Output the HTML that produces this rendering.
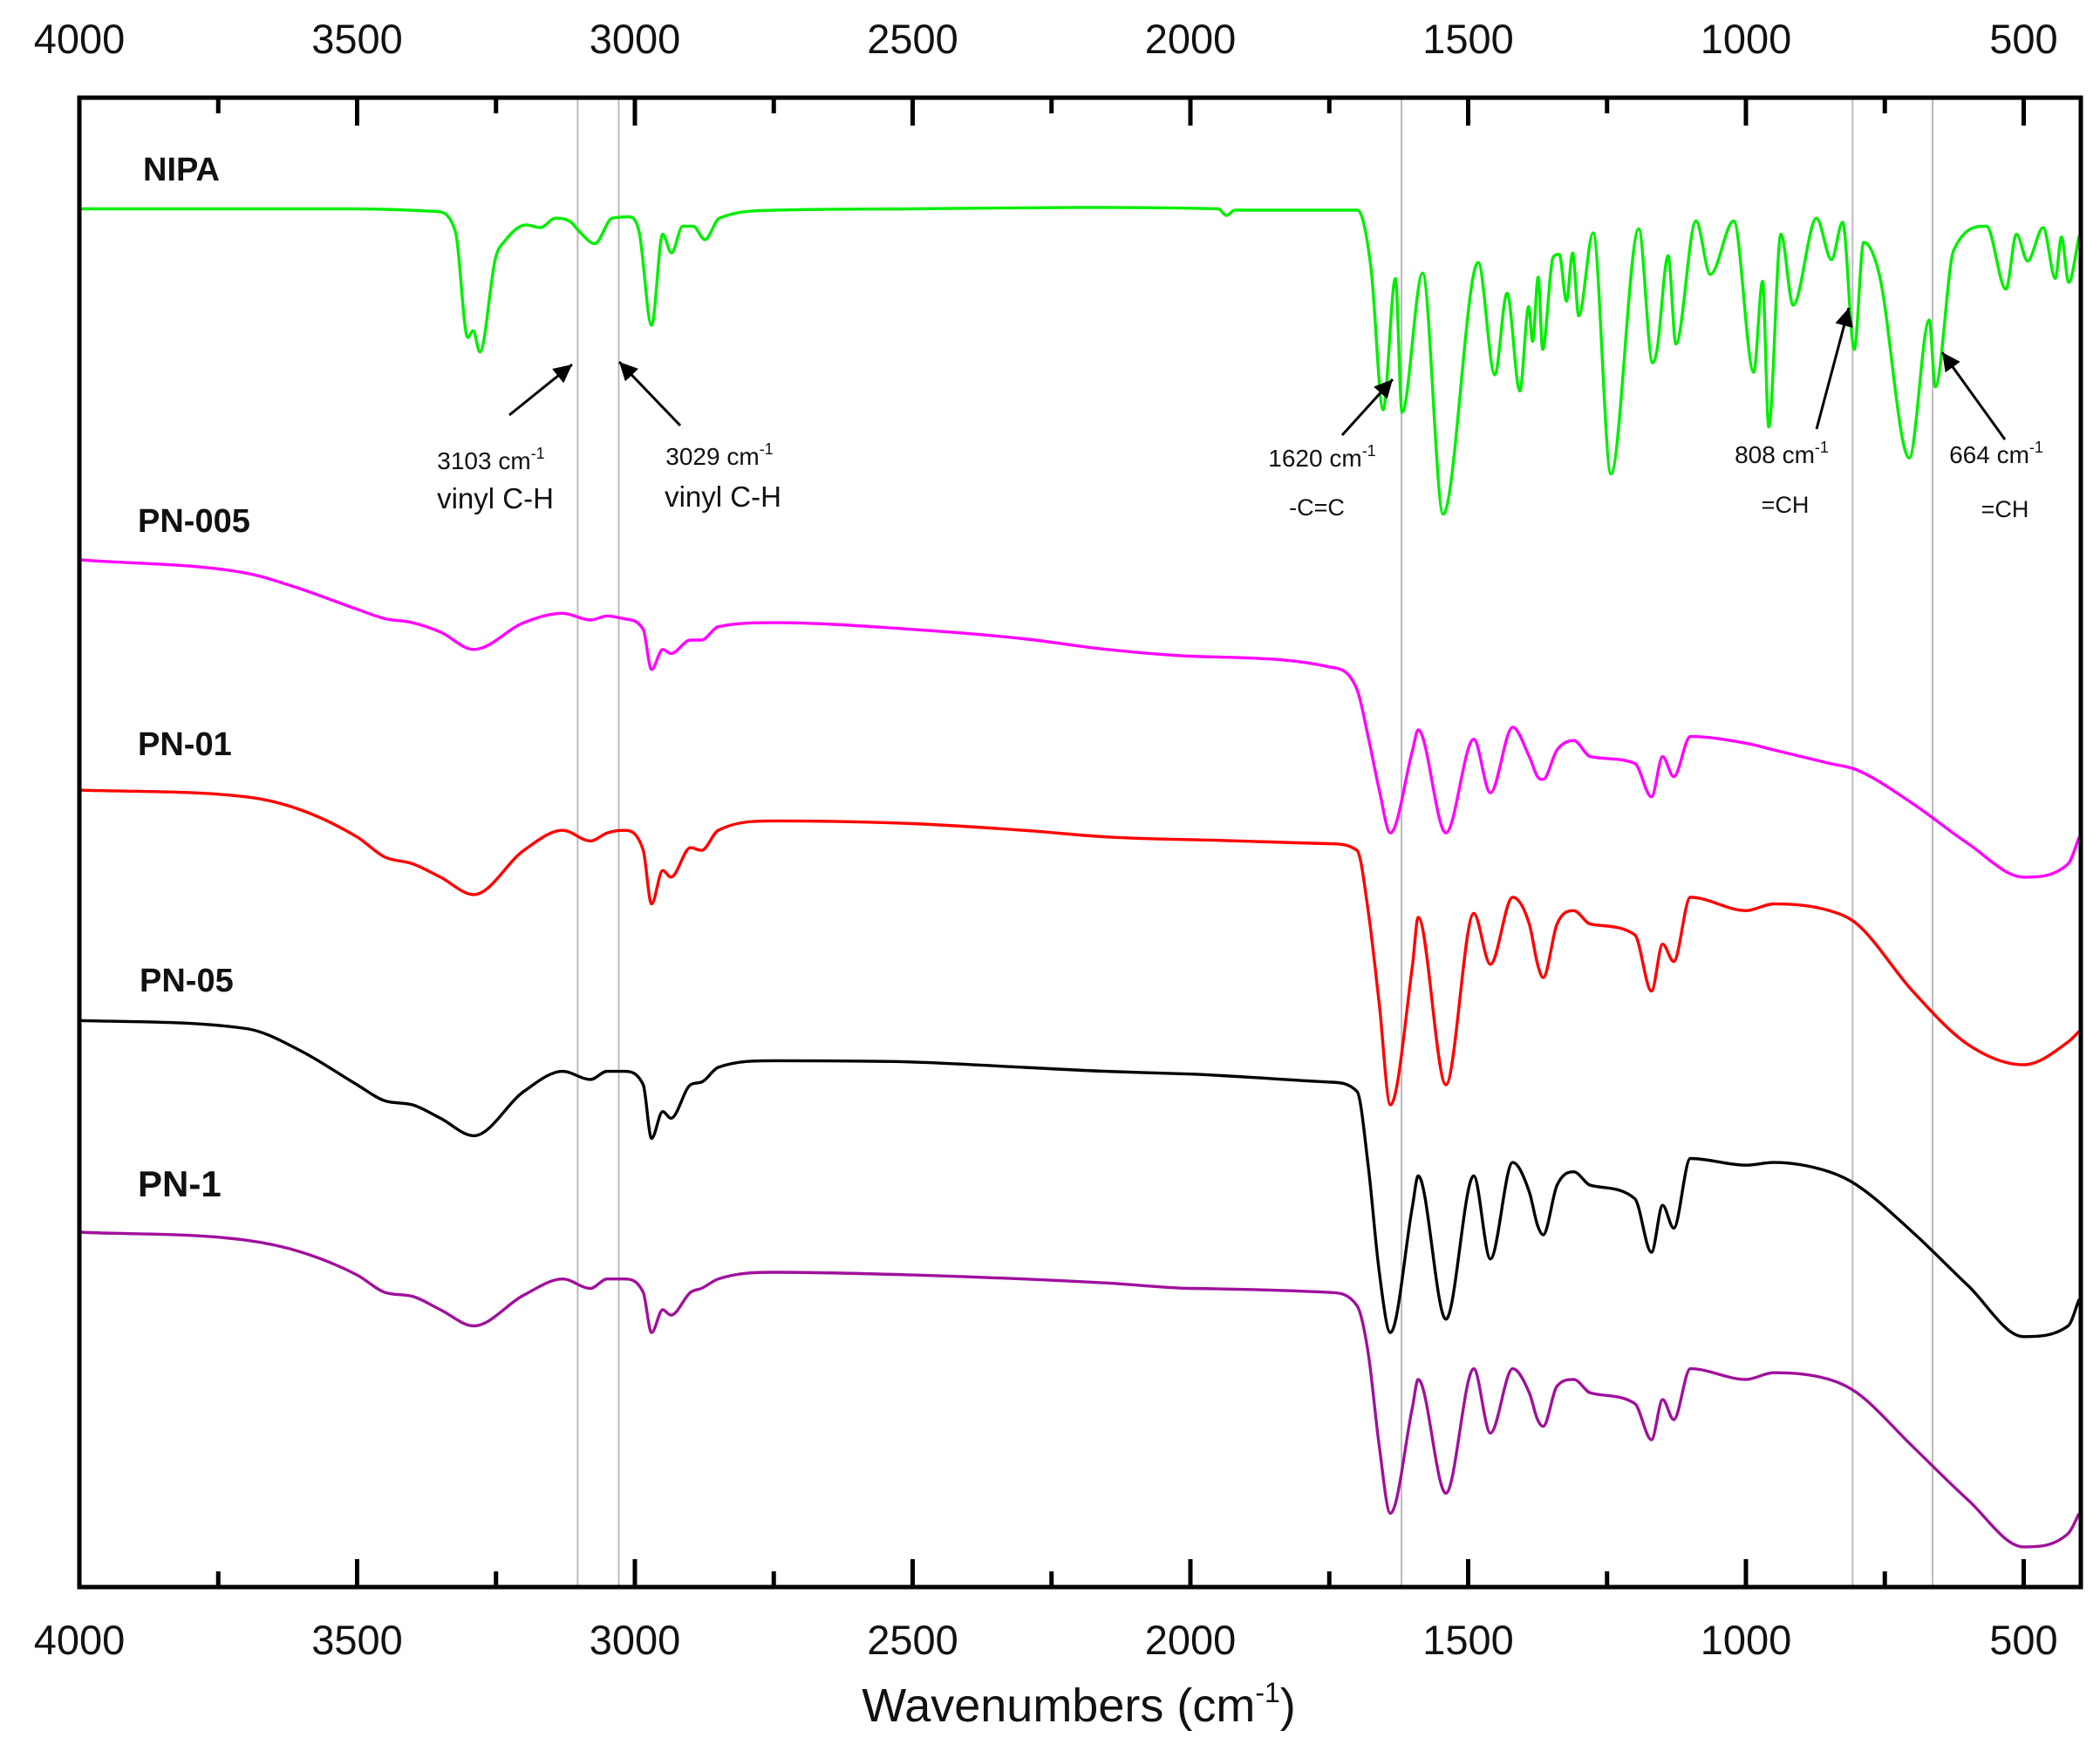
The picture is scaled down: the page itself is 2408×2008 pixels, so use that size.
<!DOCTYPE html>
<html><head><meta charset="utf-8"><style>
html,body{margin:0;padding:0;background:#fff}
svg{display:block;font-family:"Liberation Sans",Arial,sans-serif}
</style></head><body>
<svg id="chart" width="2408" height="2008" viewBox="0 0 2408 2008" xmlns="http://www.w3.org/2000/svg">
<rect width="2408" height="2008" fill="#fff"/>
<g id="grid"></g><g id="series"></g><g id="axes"></g><g id="ann"></g>
</svg>
<script>
// ---- data (wavenumber in cm-1, transmittance in arbitrary units) ----
const nipaWn=[4000,3515,3358,3323,3301,3291,3279,3251,3234,3196,3170,3143,3115,3100,3072,3041,3011,2992,2970,2950,2934,2914,2895,2874,2848,2746,2500,2200,1950,1935,1920,1699,1675,1653,1631,1619,1582,1545,1482,1452,1430,1407,1391,1384,1374,1366,1347,1336,1323,1312,1301,1275,1243,1193,1168,1160,1140,1126,1090,1064,1022,986,970,959,937,915,873,846,826,805,788,760,706,670,659,626,567,532,513,493,465,443,432,419,400];
const nipaT=[1029,1029,1027,1012,933,938,922,992,1005,1017,1015,1022,1019,1012,1003,1022,1023,1011,942,1010,996,1016,1016,1006,1022,1028,1029,1030,1029,1024,1028,1028,985,879,977,877,981,801,989,905,966,893,956,930,978,924,993,995,960,996,949,1011,831,1014,914,924,994,928,1020,980,1020,907,975,866,1010,957,1022,991,1019,924,1004,980,843,946,896,998,1016,969,1010,990,1015,977,1008,974,1009];
const polyWn=[4000,3700,3600,3500,3450,3400,3350,3290,3200,3130,3080,3050,3020,2985,2970,2950,2935,2900,2880,2850,2750,2500,2300,2150,2000,1750,1700,1680,1660,1640,1600,1590,1540,1490,1460,1420,1390,1375,1365,1340,1310,1280,1200,1170,1150,1130,1100,1000,950,850,800,700,600,500,420,400];
const pn005T=[767,757,745,730,723,720,713,700,720,727,722,725,723,715,685,700,697,707,707,717,720,715,708,700,695,687,670,635,595,563,625,640,563,633,593,642,620,605,603,625,632,620,615,590,620,605,635,630,625,615,610,585,555,530,540,560];
const pn01T=[595,590,580,560,545,540,530,517,550,565,557,563,565,550,510,535,530,552,550,565,572,570,565,560,558,555,550,505,435,360,465,500,375,503,465,515,495,465,455,495,505,495,487,445,480,467,515,505,510,505,495,445,405,390,407,415];
const pn05T=[423,417,400,375,363,360,350,337,370,385,379,385,385,375,335,355,350,375,377,388,393,392,388,385,383,377,370,315,235,190,285,307,200,307,245,317,295,270,263,300,310,300,290,250,285,268,320,315,317,310,300,265,225,187,195,215];
const pn1T=[265,259,250,233,220,217,207,195,218,230,223,230,230,220,190,207,203,220,223,230,235,233,230,227,223,220,210,175,105,55,135,155,70,163,115,163,145,125,120,150,155,145,137,110,140,125,163,155,160,155,145,105,65,30,40,55];
const tickMajor=[4000,3500,3000,2500,2000,1500,1000,500];
const tickMinor=[3750,3250,2750,2250,1750,1250,750];
const markerWn=[3103,3029,1620,808,664];

// ---- scales ----
const L=91,R=2386,T=112,B=1820;
const X0=4000,X1=4000-(R-L)/0.637;
const x=w=>L+(X0-w)*(R-L)/(X0-X1);
const y=v=>B-v*1.536;
const NS="http://www.w3.org/2000/svg";
function mk(tag,attrs,parent){const e=document.createElementNS(NS,tag);for(const k in attrs)e.setAttribute(k,attrs[k]);parent.appendChild(e);return e;}
const gGrid=document.getElementById('grid'),gS=document.getElementById('series'),gA=document.getElementById('axes');

markerWn.forEach(w=>{const l=mk('line',{x1:x(w),x2:x(w),y1:T,y2:B,stroke:'#bbb','stroke-width':2},gGrid);

});

// monotone cubic path
function monoPath(px,py){
  const n=px.length,d=[],m=new Array(n);
  for(let i=0;i<n-1;i++)d.push((py[i+1]-py[i])/(px[i+1]-px[i]));
  m[0]=d[0];m[n-1]=d[n-2];
  for(let i=1;i<n-1;i++){m[i]=(d[i-1]*d[i]<=0)?0:(d[i-1]+d[i])/2;}
  for(let i=0;i<n-1;i++){if(d[i]===0){m[i]=0;m[i+1]=0;continue;}
    const a=m[i]/d[i],b=m[i+1]/d[i],s=a*a+b*b;
    if(s>9){const t=3/Math.sqrt(s);m[i]=t*a*d[i];m[i+1]=t*b*d[i];}}
  let s='M'+px[0].toFixed(1)+' '+py[0].toFixed(1);
  for(let i=0;i<n-1;i++){const h=(px[i+1]-px[i])/3;
    s+=' C'+(px[i]+h).toFixed(1)+' '+(py[i]+m[i]*h).toFixed(1)+' '+(px[i+1]-h).toFixed(1)+' '+(py[i+1]-m[i+1]*h).toFixed(1)+' '+px[i+1].toFixed(1)+' '+py[i+1].toFixed(1);}
  return s;
}
function series(wn,vals,color,name){
  const d=monoPath(wn.map(x),vals.map(y));
  const p=mk('path',{d:d,fill:'none',stroke:color,'stroke-width':3.4,'stroke-linejoin':'round'},gS);
  
  
}
series(nipaWn,nipaT,'#00ee00','series-nipa');
series(polyWn,pn005T,'#ff00ff','series-pn-005');
series(polyWn,pn01T,'#ff0000','series-pn-01');
series(polyWn,pn05T,'#000000','series-pn-05');
series(polyWn,pn1T,'#a0109c','series-pn-1');

const fr=mk('rect',{x:L,y:T,width:R-L,height:B-T,fill:'none',stroke:'#000','stroke-width':5},gA);


tickMajor.forEach(w=>{
  mk('line',{x1:x(w),x2:x(w),y1:T,y2:T+32,stroke:'#000','stroke-width':5},gA);
  mk('line',{x1:x(w),x2:x(w),y1:B,y2:B-32,stroke:'#000','stroke-width':5},gA);
  const t1=mk('text',{x:x(w),y:61,'font-size':47,'text-anchor':'middle',fill:'#111'},gA);t1.textContent=w;
  
  
  const t2=mk('text',{x:x(w),y:1897,'font-size':47,'text-anchor':'middle',fill:'#111'},gA);t2.textContent=w;
  
  
});
tickMinor.forEach(w=>{
  mk('line',{x1:x(w),x2:x(w),y1:T,y2:T+18,stroke:'#000','stroke-width':5},gA);
  mk('line',{x1:x(w),x2:x(w),y1:B,y2:B-18,stroke:'#000','stroke-width':5},gA);
});
</script>
<svg style="position:absolute;left:0;top:0" width="2408" height="2008" xmlns="http://www.w3.org/2000/svg" font-family="Liberation Sans, Arial, sans-serif">
<defs><marker id="ah" viewBox="0 0 10 10" refX="10" refY="5" markerWidth="7" markerHeight="7" orient="auto"><path d="M0,0 L10,5 L0,10 z" fill="#000"/></marker></defs>
<text x="1237" y="1974" font-size="54" text-anchor="middle" fill="#111">Wavenumbers (cm<tspan dy="-22" font-size="32">-1</tspan><tspan dy="22">)</tspan></text>
<g font-weight="bold" fill="#111">
<text x="164" y="207" font-size="38">NIPA</text>
<text x="158" y="610" font-size="38">PN-005</text>
<text x="158" y="866" font-size="38">PN-01</text>
<text x="160" y="1137" font-size="38">PN-05</text>
<text x="158" y="1372" font-size="42">PN-1</text>
</g>
<g fill="#111" text-anchor="middle">
<text x="563" y="538" font-size="28">3103 cm<tspan dy="-12" font-size="18">-1</tspan></text>
<text x="568" y="583" font-size="33">vinyl C-H</text>
<text x="825" y="533" font-size="28">3029 cm<tspan dy="-12" font-size="18">-1</tspan></text>
<text x="829" y="581" font-size="33">vinyl C-H</text>
<text x="1516" y="535" font-size="28">1620 cm<tspan dy="-12" font-size="18">-1</tspan></text>
<text x="1510" y="591" font-size="27">-C=C</text>
<text x="2043" y="531" font-size="28">808 cm<tspan dy="-12" font-size="18">-1</tspan></text>
<text x="2047" y="588" font-size="27">=CH</text>
<text x="2289" y="531" font-size="28">664 cm<tspan dy="-12" font-size="18">-1</tspan></text>
<text x="2299" y="593" font-size="27">=CH</text>
</g>
<g stroke="#000" stroke-width="3" marker-end="url(#ah)">
<line x1="584" y1="476" x2="656" y2="418"/>
<line x1="780" y1="488" x2="710" y2="415"/>
<line x1="1539" y1="499" x2="1597" y2="435"/>
<line x1="2083" y1="492" x2="2120" y2="353"/>
<line x1="2299" y1="504" x2="2227" y2="404"/>
</g>
</svg>
</body></html>
